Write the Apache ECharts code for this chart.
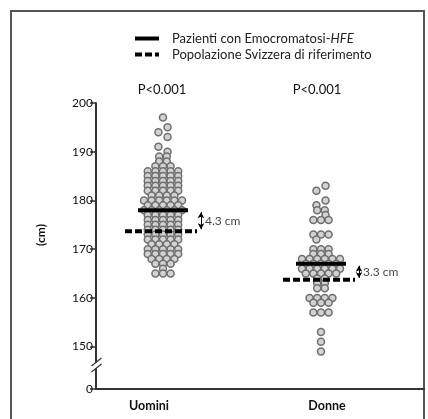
<!DOCTYPE html>
<html>
<head>
<meta charset="utf-8">
<script src="https://cdn.jsdelivr.net/npm/echarts@6/dist/echarts.min.js"></script>
<style>
html,body{margin:0;padding:0;background:#fff;}
#main{width:428px;height:419px;}
</style>
</head>
<body>
<div id="main"></div>
<script>
var categories = ['Uomini', 'Donne'];
var pLabels = ['P<0.001', 'P<0.001'];
var seriesNames = ['Pazienti con Emocromatosi-HFE', 'Popolazione Svizzera di riferimento'];
var yTicks = [150, 160, 170, 180, 190, 200];

// altezze individuali (cm)
var uomini = [197, 195, 194, 193, 191, 190, 189, 189, 188, 188,
    187, 187, 187, 186, 186, 186, 186, 186, 185, 185, 185, 185, 185,
    184, 184, 184, 184, 184, 183, 183, 183, 183, 183, 182, 182, 182, 182, 182,
    181, 181, 181, 181, 180, 180, 180, 180, 180, 180, 179, 179, 179, 179, 179,
    178, 178, 178, 178, 178, 178, 177, 177, 177, 177, 177, 176, 176, 176, 176, 176,
    175, 175, 175, 175, 175, 174, 174, 174, 174, 174, 173, 173, 173, 173, 173,
    172, 172, 172, 172, 172, 171, 171, 171, 171, 170, 170, 170, 170, 170,
    169, 169, 169, 169, 169, 168, 168, 168, 168, 167, 167, 167, 166, 165, 165, 165];
var donne = [183, 182, 180, 179, 178, 178, 177, 176, 176, 176, 173, 173, 173, 172,
    170, 170, 170, 169, 169, 169, 168, 168, 168, 168, 168, 168,
    167, 167, 167, 167, 167, 166, 166, 166, 166, 166, 166, 165, 165, 165, 165, 165,
    164, 164, 163, 163, 162, 162, 160, 160, 160, 160, 159, 159, 159,
    157, 157, 157, 153, 151, 149];
var patientMeans = [178.0, 167.0];
var referenceMeans = [173.7, 163.7];

var myChart = echarts.init(document.getElementById('main'));

var grid = {left: 96, right: 4, top: 103, bottom: 30};
var xMin = 0.576, xMax = 2.652;
var yMin = 141.3, yMax = 200;
var pxPerUnit = (428 - grid.left - grid.right) / (xMax - xMin);
var dotStep = 7.6 / pxPerUnit;
var font = 'Lato, "Liberation Sans", sans-serif';

// righe per valore, centrate; i punti isolati in alto si alternano a destra/sinistra
function swarm(values, center, mean) {
    var rows = {};
    values.forEach(function (v) {
        (rows[v] = rows[v] || []).push(v);
    });
    var out = [];
    var flip = 0;
    Object.keys(rows).sort(function (a, b) { return b - a; }).forEach(function (k) {
        var row = rows[k];
        var shift = 0;
        if (row.length === 1 && +k > mean && (rows[+k + 1] || rows[+k - 1] || rows[+k + 2])) {
            shift = (flip++ % 2 ? -0.6 : 0.6) * dotStep;
        }
        for (var i = 0; i < row.length; i++) {
            out.push([center + shift + (i - (row.length - 1) / 2) * dotStep, row[i]]);
        }
    });
    return out;
}

var series = [];
[uomini, donne].forEach(function (vals, i) {
    series.push({
        type: 'scatter', name: categories[i], data: swarm(vals, i + 1, patientMeans[i]),
        symbolSize: 7, z: 2,
        itemStyle: {color: '#d2d2d2', borderColor: '#6f6f6f', borderWidth: 1.5, opacity: 1}
    });
});

var solidHalf = 25 / pxPerUnit, dashL = 38 / pxPerUnit, dashR = 34 / pxPerUnit;
var arrowOff = 38 / pxPerUnit;
patientMeans.forEach(function (m, i) {
    var c = i + 1;
    series.push({
        type: 'line', name: seriesNames[0], symbol: 'none', z: 5,
        data: [[c - solidHalf, m], [c + solidHalf, m]],
        itemStyle: {color: '#000'},
        lineStyle: {color: '#000', width: 4}
    });
    series.push({
        type: 'line', name: seriesNames[1], symbol: 'none', z: 5,
        data: [[c - dashL, referenceMeans[i]], [c + dashR, referenceMeans[i]]],
        itemStyle: {color: '#000'},
        lineStyle: {color: '#000', width: 4, type: [7, 3]}
    });
});

series.push({
    type: 'line', name: 'diff', data: [], silent: true,
    markLine: {
        silent: true, symbol: ['arrow', 'arrow'], symbolSize: [5, 6],
        label: {show: false},
        lineStyle: {color: '#000', width: 1, type: 'solid'},
        data: patientMeans.map(function (m, i) {
            return [{coord: [i + 1 + arrowOff, m - 0.4]}, {coord: [i + 1 + arrowOff, referenceMeans[i] + 0.4]}];
        })
    }
});
series.push({
    type: 'scatter', name: 'diffLabel', symbolSize: 0, silent: true,
    data: patientMeans.map(function (m, i) {
        return [i + 1 + arrowOff, (m + referenceMeans[i]) / 2];
    }),
    label: {
        show: true, position: 'right', distance: 4, color: '#111',
        fontSize: 12, fontFamily: font,
        formatter: function (p) {
            return (patientMeans[p.dataIndex] - referenceMeans[p.dataIndex]).toFixed(1) + ' cm';
        }
    }
});

myChart.setOption({
    animation: false,
    grid: grid,
    legend: {
        orient: 'vertical', left: 133, top: 32, padding: 0,
        itemWidth: 24, itemHeight: 4, itemGap: 3,
        data: seriesNames, selectedMode: false,
        lineStyle: {width: 4},
        itemStyle: {opacity: 0},
        formatter: function (name) {
            return name === seriesNames[0] ? '{t|Pazienti con Emocromatosi-}{i|HFE}' : '{t|' + name + '}';
        },
        textStyle: {
            fontSize: 13, color: '#222', fontFamily: font, padding: [0, 0, 0, 8],
            rich: {t: {fontSize: 13, fontFamily: font, color: '#222'},
                   i: {fontSize: 13, fontFamily: font, color: '#222', fontStyle: 'italic'}}
        }
    },
    xAxis: {
        type: 'value', min: xMin, max: xMax,
        splitLine: {show: false},
        axisLine: {lineStyle: {color: '#333', width: 2}},
        axisTick: {show: false},
        axisLabel: {
            customValues: [1, 2], margin: 10,
            formatter: function (v) {
                return v === 1 ? '{u|' + categories[0] + '}' : '{d|' + categories[1] + '}';
            },
            rich: {
                u: {fontSize: 12.5, fontWeight: 'bold', color: '#111', fontFamily: font, padding: [0, 28, 0, 0]},
                d: {fontSize: 12.5, fontWeight: 'bold', color: '#111', fontFamily: font, padding: [0, 0, 0, 12]}
            }
        }
    },
    yAxis: {
        type: 'value', min: yMin, max: yMax,
        name: '(cm)', nameLocation: 'middle', nameRotate: 90, nameGap: 49,
        nameTextStyle: {fontSize: 12, fontWeight: 'bold', color: '#111', fontFamily: font, padding: [0, 0, 0, 22]},
        splitLine: {show: false},
        axisLine: {show: true, lineStyle: {color: '#333', width: 2}},
        axisTick: {show: true, length: 6, customValues: [yMin].concat(yTicks), lineStyle: {color: '#333', width: 1.5}},
        axisLabel: {
            customValues: [yMin].concat(yTicks), margin: 3,
            fontSize: 12, color: '#111', fontFamily: font,
            formatter: function (v) { return v === yMin ? '0' : String(v); }
        }
    },
    graphic: [
        {type: 'rect', shape: {x: 11, y: 11, width: 413, height: 420}, style: {fill: 'none', stroke: '#555', lineWidth: 2}, z: -1},
        {type: 'rect', shape: {x: 93, y: 362.5, width: 6, height: 6}, style: {fill: '#fff'}, z: 100},
        {type: 'line', shape: {x1: 91.5, y1: 366, x2: 101.5, y2: 358}, style: {stroke: '#333', lineWidth: 1.2}, z: 101},
        {type: 'line', shape: {x1: 91.5, y1: 372, x2: 101.5, y2: 364}, style: {stroke: '#333', lineWidth: 1.2}, z: 101},
        {type: 'text', x: 162, y: 90, style: {text: pLabels[0], fontSize: 13, fill: '#111', fontFamily: font, align: 'center', verticalAlign: 'middle'}},
        {type: 'text', x: 317, y: 90, style: {text: pLabels[1], fontSize: 13, fill: '#111', fontFamily: font, align: 'center', verticalAlign: 'middle'}}
    ],
    series: series
});
</script>
</body>
</html>
